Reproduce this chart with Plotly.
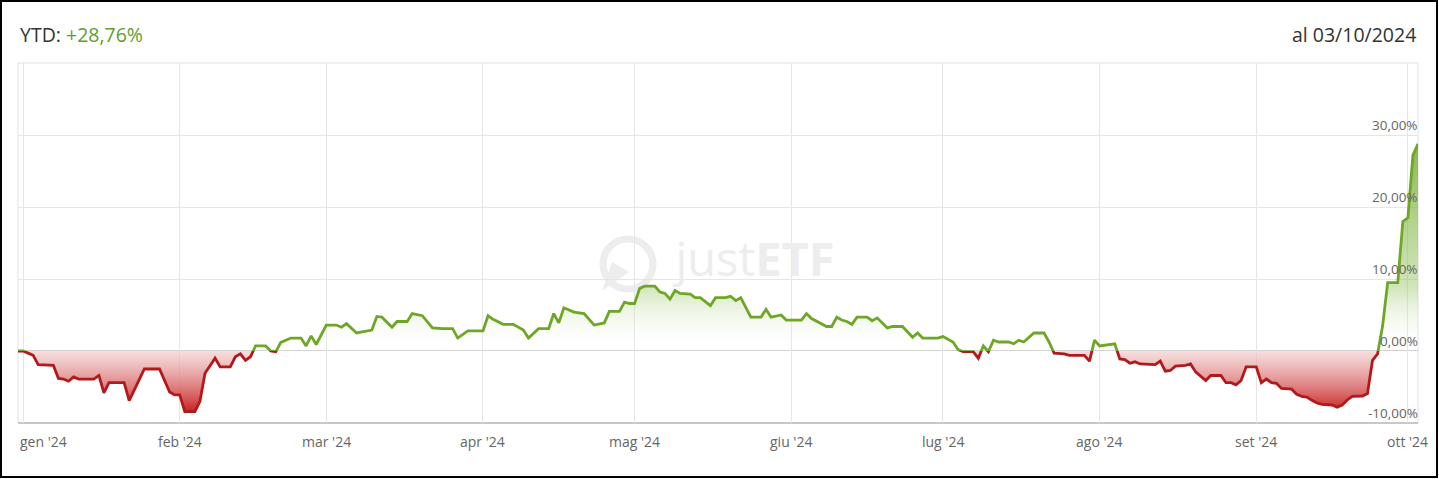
import pandas as pd
import plotly.graph_objects as go

# YTD performance (%), vertices of the line
dates = [
    "2023-12-31", "2024-01-01", "2024-01-02", "2024-01-03", "2024-01-04", "2024-01-07", "2024-01-08",
    "2024-01-09", "2024-01-10", "2024-01-11", "2024-01-12", "2024-01-15", "2024-01-16", "2024-01-17",
    "2024-01-18", "2024-01-21", "2024-01-22", "2024-01-25", "2024-01-28", "2024-01-30", "2024-01-31",
    "2024-02-01", "2024-02-02", "2024-02-04", "2024-02-05", "2024-02-06", "2024-02-08", "2024-02-09",
    "2024-02-11", "2024-02-12", "2024-02-13", "2024-02-14", "2024-02-15", "2024-02-16", "2024-02-18",
    "2024-02-19", "2024-02-20", "2024-02-21", "2024-02-23", "2024-02-25", "2024-02-26", "2024-02-27",
    "2024-02-28", "2024-03-01", "2024-03-03", "2024-03-04", "2024-03-05", "2024-03-07", "2024-03-10",
    "2024-03-11", "2024-03-12", "2024-03-14", "2024-03-15", "2024-03-17", "2024-03-18", "2024-03-20",
    "2024-03-22", "2024-03-24", "2024-03-26", "2024-03-27", "2024-03-29", "2024-04-01", "2024-04-02",
    "2024-04-03", "2024-04-05", "2024-04-07", "2024-04-09", "2024-04-10", "2024-04-12", "2024-04-14",
    "2024-04-15", "2024-04-16", "2024-04-17", "2024-04-19", "2024-04-21", "2024-04-23", "2024-04-25",
    "2024-04-26", "2024-04-28", "2024-04-29", "2024-04-30", "2024-05-01", "2024-05-02", "2024-05-03",
    "2024-05-05", "2024-05-06", "2024-05-07", "2024-05-08", "2024-05-09", "2024-05-10", "2024-05-12",
    "2024-05-13", "2024-05-14", "2024-05-16", "2024-05-17", "2024-05-19", "2024-05-20", "2024-05-21",
    "2024-05-22", "2024-05-24", "2024-05-26", "2024-05-27", "2024-05-28", "2024-05-30", "2024-05-31",
    "2024-06-03", "2024-06-04", "2024-06-05", "2024-06-06", "2024-06-08", "2024-06-09", "2024-06-10",
    "2024-06-11", "2024-06-12", "2024-06-13", "2024-06-14", "2024-06-16", "2024-06-17", "2024-06-18",
    "2024-06-20", "2024-06-21", "2024-06-23", "2024-06-25", "2024-06-26", "2024-06-27", "2024-06-30",
    "2024-07-01", "2024-07-02", "2024-07-03", "2024-07-04", "2024-07-05", "2024-07-07", "2024-07-08",
    "2024-07-09", "2024-07-10", "2024-07-11", "2024-07-12", "2024-07-14", "2024-07-15", "2024-07-16",
    "2024-07-17", "2024-07-19", "2024-07-21", "2024-07-22", "2024-07-23", "2024-07-25", "2024-07-26",
    "2024-07-29", "2024-07-30", "2024-07-31", "2024-08-01", "2024-08-04", "2024-08-05", "2024-08-06",
    "2024-08-07", "2024-08-08", "2024-08-09", "2024-08-12", "2024-08-13", "2024-08-14", "2024-08-15",
    "2024-08-16", "2024-08-18", "2024-08-19", "2024-08-20", "2024-08-22", "2024-08-23", "2024-08-25",
    "2024-08-26", "2024-08-27", "2024-08-28", "2024-08-29", "2024-08-30", "2024-09-01", "2024-09-02",
    "2024-09-03", "2024-09-04", "2024-09-05", "2024-09-06", "2024-09-08", "2024-09-09", "2024-09-10",
    "2024-09-11", "2024-09-12", "2024-09-13", "2024-09-14", "2024-09-16", "2024-09-17", "2024-09-18",
    "2024-09-19", "2024-09-20", "2024-09-22", "2024-09-23", "2024-09-24", "2024-09-25", "2024-09-26",
    "2024-09-27", "2024-09-29", "2024-09-30", "2024-10-01", "2024-10-02", "2024-10-03",
]
values = [
    0.0, 0.0, -0.3, -0.6, -1.9, -2.0, -3.8,
    -3.9, -4.2, -3.6, -3.9, -3.9, -3.4, -5.8,
    -4.4, -4.4, -6.9, -2.5, -2.5, -5.7, -6.1,
    -6.1, -8.4, -8.4, -7.0, -3.1, -1.0, -2.2,
    -2.2, -0.8, -0.4, -1.3, -0.8, 0.7, 0.7,
    0.0, -0.1, 1.2, 1.8, 1.8, 0.7, 2.1,
    0.9, 3.6, 3.6, 3.3, 3.8, 2.5, 2.9,
    4.8, 4.7, 3.3, 4.1, 4.1, 5.2, 4.9,
    3.2, 3.1, 3.1, 1.8, 2.8, 2.8, 4.9,
    4.4, 3.7, 3.7, 2.9, 1.8, 3.1, 3.1,
    5.2, 3.9, 6.0, 5.4, 5.2, 3.6, 3.9,
    5.5, 5.5, 6.8, 6.6, 6.6, 8.7, 9.0,
    9.0, 8.2, 8.0, 7.2, 8.4, 8.0, 7.9,
    7.4, 7.4, 6.3, 7.4, 7.4, 7.6, 7.0,
    7.4, 4.7, 4.7, 5.8, 4.7, 5.0, 4.3,
    4.3, 5.2, 4.5, 4.1, 3.4, 3.4, 4.7,
    4.3, 4.1, 3.7, 4.7, 4.7, 4.2, 4.6,
    3.2, 3.4, 3.4, 1.9, 2.5, 1.8, 1.8,
    2.0, 1.6, 1.25, 0.2, -0.1, -0.1, -1.0,
    0.7, -0.1, 1.5, 1.25, 1.25, 1.0, 1.5,
    1.25, 2.5, 2.5, 1.25, -0.3, -0.4, -0.6,
    -0.6, -1.4, 1.5, 0.7, 1.0, -1.1, -1.2,
    -1.7, -1.5, -1.8, -1.9, -1.4, -2.8, -2.7,
    -2.1, -2.0, -1.8, -2.9, -4.1, -3.4, -3.4,
    -4.4, -4.4, -4.7, -4.1, -2.2, -2.2, -4.4,
    -3.9, -4.4, -4.5, -5.2, -5.3, -6.0, -6.3,
    -6.4, -6.85, -7.2, -7.4, -7.5, -7.8, -7.5,
    -6.8, -6.3, -6.25, -5.9, -1.3, -0.4, 3.5,
    9.5, 9.5, 18.0, 18.5, 27.2, 28.76,
]

month_ticks = ["2024-01-01", "2024-02-01", "2024-03-01", "2024-04-01", "2024-05-01",
               "2024-06-01", "2024-07-01", "2024-08-01", "2024-09-01", "2024-10-01"]
month_labels = ["gen '24", "feb '24", "mar '24", "apr '24", "mag '24",
                "giu '24", "lug '24", "ago '24", "set '24", "ott '24"]
y_ticks = [-10, 0, 10, 20, 30]
y_labels = ["-10,00%", "0,00%", "10,00%", "20,00%", "30,00%"]

GREEN = "#6ea626"
RED = "#b3191b"
W, H = 1439, 479
ML, MR, MT, MB = 18, 21, 63, 56
PW, PH = W - ML - MR, H - MT - MB
X_START, X_END = pd.Timestamp("2023-12-31"), pd.Timestamp("2024-10-03")
Y_MIN, Y_MAX = -10, 40


def px(x):
    return (x - ML) / PW


def py(y):
    return (H - MB - y) / PH


fig = go.Figure()

# watermark as a text trace so it sits under the line
fig.add_trace(go.Scatter(
    x=[X_START + (X_END - X_START) * px(755)], y=[Y_MIN + (Y_MAX - Y_MIN) * py(264)],
    yaxis="y", mode="text", text=["just<b>ETF</b>"],
    textfont=dict(size=47, color="#ededed", family="Open Sans"),
    textposition="middle center", hoverinfo="skip",
))

# positive part: top panel (0..40) clips everything below zero
fig.add_trace(go.Scatter(
    x=dates, y=values, yaxis="y", mode="lines",
    line=dict(color=GREEN, width=2.8),
    fill="tozeroy",
    fillgradient=dict(type="vertical", start=0, stop=30,
                      colorscale=[[0, "rgba(255,255,255,0)"],
                                  [0.3, "rgba(140,190,80,0.4)"],
                                  [1, "rgba(110,166,38,0.85)"]]),
    hoverinfo="skip",
))
# negative part: bottom panel (-10..0) clips everything above zero
fig.add_trace(go.Scatter(
    x=dates, y=values, yaxis="y2", mode="lines",
    line=dict(color=RED, width=2.8),
    fill="tozeroy",
    fillgradient=dict(type="vertical", start=-9, stop=0,
                      colorscale=[[0, "rgba(196,18,18,1)"],
                                  [1, "rgba(240,200,200,0.6)"]]),
    hoverinfo="skip",
))

annotations = [
    dict(text="YTD: <span style='color:#5e9e2c'>+28,76%</span>", x=0, y=py(34),
         xref="paper", yref="paper", xanchor="left", yanchor="middle", showarrow=False,
         font=dict(size=19.5, color="#333333")),
    dict(text="al 03/10/2024", x=1, y=py(34),
         xref="paper", yref="paper", xanchor="right", yanchor="middle", showarrow=False,
         font=dict(size=19.5, color="#333333")),
]
for i, (d, lab) in enumerate(zip(month_ticks, month_labels)):
    annotations.append(dict(
        text=lab, x=d if i else 0, xref="x" if i else "paper", y=py(441), yref="paper",
        xanchor="center" if i else "left", yanchor="middle", showarrow=False,
        font=dict(size=14, color="#666666")))
for v, lab in zip(y_ticks, y_labels):
    annotations.append(dict(
        text=lab, x=1, xref="paper", y=v, yref="y" if v >= 0 else "y2",
        xanchor="right", yanchor="bottom", xshift=2, yshift=-1, showarrow=False,
        font=dict(size=13.5, color="#666666")))

shapes = [
    # watermark logo ring and pointer
    dict(type="circle", xref="paper", yref="paper", layer="below",
         x0=px(603), x1=px(653), y0=py(289), y1=py(239),
         line=dict(color="#ededed", width=7)),
    dict(type="path", xref="paper", yref="paper", layer="below",
         path=f"M {px(602)},{py(291)} L {px(612)},{py(262)} L {px(629)},{py(272)} Z",
         fillcolor="#ededed", line=dict(width=0)),
    # plot frame
    dict(type="rect", xref="paper", yref="paper", layer="between",
         x0=0, x1=1, y0=0, y1=1, line=dict(color="#e2e2e2", width=1)),
    dict(type="line", xref="paper", yref="paper", layer="between",
         x0=0, x1=1, y0=0, y1=0, line=dict(color="#c8c8c8", width=2)),
    # zero line
    dict(type="line", xref="paper", yref="y", layer="between",
         x0=0, x1=1, y0=0, y1=0, line=dict(color="#a6a6a6", width=1)),
    # outer border
    dict(type="rect", xref="paper", yref="paper", layer="above",
         x0=px(1), x1=px(1437), y0=py(477), y1=py(1),
         line=dict(color="#000000", width=2)),
]

fig.update_layout(
    width=W, height=H,
    margin=dict(l=ML, r=MR, t=MT, b=MB),
    paper_bgcolor="white", plot_bgcolor="white",
    font=dict(family="Open Sans"),
    showlegend=False,
    xaxis=dict(type="date", range=[X_START, X_END], anchor="y2",
               tickvals=month_ticks, showticklabels=False, ticks="",
               showgrid=True, gridcolor="#e6e6e6", gridwidth=1,
               zeroline=False, showline=False, fixedrange=True),
    yaxis=dict(domain=[0.2, 1], range=[0, 40], tickvals=[10, 20, 30],
               showgrid=True, gridcolor="#e6e6e6", showticklabels=False,
               zeroline=False, showline=False, fixedrange=True),
    yaxis2=dict(domain=[0, 0.2], range=[Y_MIN, 0], showgrid=False,
                showticklabels=False, zeroline=False, showline=False, fixedrange=True),
    annotations=annotations,
    shapes=shapes,
)

fig.write_html("out.html", config={"displayModeBar": False},
               post_script="document.body.style.margin='0';")
